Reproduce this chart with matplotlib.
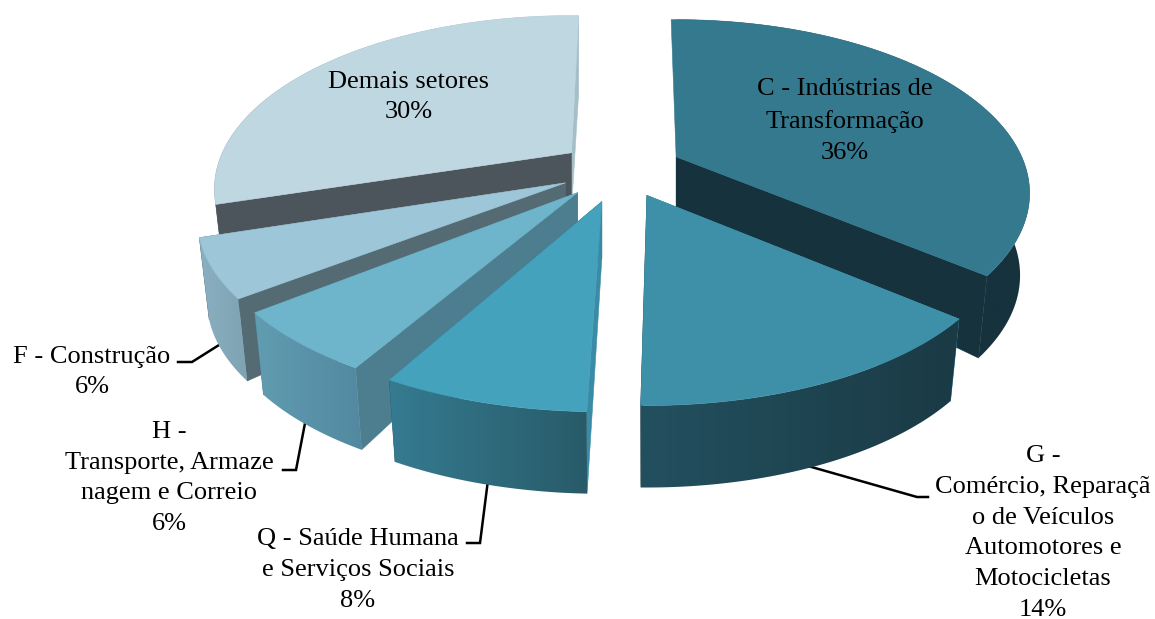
import numpy as np
import matplotlib
matplotlib.use("Agg")
import matplotlib.pyplot as plt
from matplotlib.colors import to_rgb
from matplotlib.patches import Polygon

# Slices in drawing order around the pie, clockwise from twelve o'clock
sectors = ["C", "G", "Q", "H", "F", "Demais"]
shares = [36, 14, 8, 6, 6, 30]
labels = [
    "C - Indústrias de\nTransformação\n36%",
    "G -\nComércio, Reparaçã\no de Veículos\nAutomotores e\nMotocicletas\n14%",
    "Q - Saúde Humana\ne Serviços Sociais\n8%",
    "H -\nTransporte, Armaze\nnagem e Correio\n6%",
    "F - Construção\n6%",
    "Demais setores\n30%",
]
label_xy = [(845, 121), (1043, 533), (358, 570), (169, 478), (92, 372), (409, 97)]

top_colors = ["#35798f", "#3e90a8", "#45a2bc", "#6eb5cb", "#9dc7d8", "#bfd7e1"]
rim_left = ["#16323d", "#23505f", "#357b91", "#619cb1", "#8ab0c1", "#4c555c"]
rim_right = ["#16323d", "#1a3a45", "#285b69", "#5289a0", "#7ea3b3", "#a5bfc9"]
start_wall = ["#16323d", "#3a8ba5", "#3a8ba5", "#4c7e90", "#546b74", "#4c555c"]
end_wall = ["#16323d", "#1a3a45", "#285b69", "#4c7e90", "#546b74", "#a5bfc9"]
draw_order = [5, 0, 4, 3, 2, 1]
BACK_SLICE = 5

# Per-slice view tweaks of the perspective: pull-out, width, and edge nudges in degrees
explode = [0.175, 0.17, 0.195, 0.18, 0.17, 0.17]
width_scale = [0.96, 0.98, 1.0, 1.0, 1.0, 0.97]
start_nudge = [-1.0, 0.5, 1.9, 1.5, 2.0, 1.0]
end_nudge = [-1.0, 0.8, 0.0, 0.7, 0.0, 1.4]

leaders = {
    "F": ([219, 192, 178], [345, 362, 362]),
    "H": ([306, 296, 283], [418, 470, 470]),
    "Q": ([488, 480, 467], [480, 543, 543]),
    "G": ([808, 917, 928], [466, 497, 497]),
}

# Projection of the tilted disc onto the page
CX, CY = 620.0, 169.0
RX, RY = 360.0, 166.0
PERSP = 0.21
DROP_APEX = 57.0
DROP_RIM = 82.0
FLOOR_SHRINK = 0.027


def local(x, y):
    """Page offset of a disc point measured from the slice apex."""
    w = 1.0 / (1.0 + PERSP * y)
    return RX * x * w, -RY * y * w


def rim_points(angles, stretch):
    lx, ly = local(np.sin(angles), np.cos(angles))
    return lx * stretch, ly


fig = plt.figure(figsize=(11.55, 6.19), dpi=100)
ax = fig.add_axes([0, 0, 1, 1])

edges = np.cumsum([0] + shares) / sum(shares) * 360.0

for layer, i in enumerate(draw_order):
    base = 2 + layer * 4
    t0 = np.radians(edges[i] + start_nudge[i])
    t1 = np.radians(edges[i + 1] + end_nudge[i])
    mid = np.radians((edges[i] + edges[i + 1]) / 2)
    ex, ey = local(explode[i] * np.sin(mid), explode[i] * np.cos(mid))
    ax0, ay0 = CX + ex, CY + ey
    ax0b, ay0b = ax0, ay0 + DROP_APEX

    # Top face outline
    lx, ly = rim_points(np.linspace(t0, t1, 200), width_scale[i])
    ux, vy = ax0 + lx, ay0 + ly

    # The walls never reach behind twelve o'clock
    wx, wy = rim_points(np.linspace(max(t0, 0.0), t1, 200), width_scale[i])
    tx, ty = ax0 + wx, ay0 + wy
    bx, by = ax0 + wx * (1 - FLOOR_SHRINK), ay0 + wy + DROP_RIM

    # Radial cut faces, the far one first
    ax.fill([ax0, tx[-1], bx[-1], ax0b], [ay0, ty[-1], by[-1], ay0b],
            color=end_wall[i], lw=0.4, zorder=base)
    ax.fill([ax0, tx[0], bx[0], ax0b], [ay0, ty[0], by[0], ay0b],
            color=start_wall[i], lw=0.4, zorder=base + 1)

    # Outer wall shaded from left to right; on the back slice it sits behind the cuts
    wall = Polygon(np.c_[np.r_[tx, bx[::-1]], np.r_[ty, by[::-1]]],
                   closed=True, transform=ax.transData,
                   facecolor="none", edgecolor="none")
    ax.add_patch(wall)
    ramp = np.linspace(to_rgb(rim_left[i]), to_rgb(rim_right[i]), 256)[None, :, :]
    left, right = min(tx.min(), bx.min()), max(tx.max(), bx.max())
    img = ax.imshow(ramp, extent=(left, right, by.max() + 2, ty.min() - 2),
                    aspect="auto", interpolation="bilinear",
                    zorder=base - 1 if i == BACK_SLICE else base + 2)
    img.set_clip_path(wall)

    # Top face
    ax.fill(np.r_[ax0, ux], np.r_[ay0, vy], color=top_colors[i], lw=0.4,
            zorder=base + 3)

ax.set_xlim(0, 1155)
ax.set_ylim(619, 0)
ax.axis("off")

for xs, ys in leaders.values():
    ax.plot(xs, ys, color="black", lw=1.8, solid_joinstyle="miter", zorder=0.5)

for text, (x, y) in zip(labels, label_xy):
    ax.text(x, y, text, ha="center", va="center", fontsize=19,
            family="Liberation Serif", color="black", linespacing=1.52,
            zorder=40)

fig.savefig("out.png", dpi=100)
